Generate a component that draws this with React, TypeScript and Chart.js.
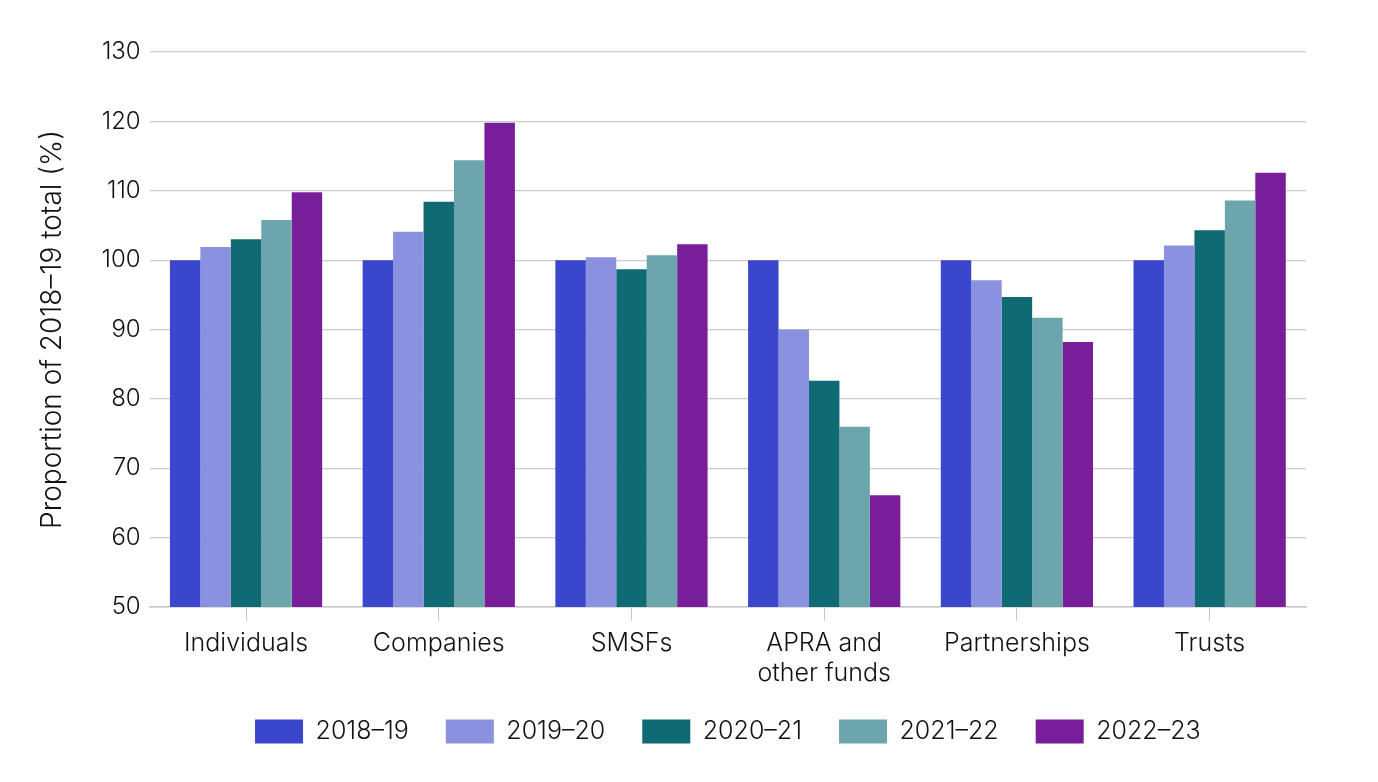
import React, { useEffect, useRef } from "react";
import { Chart, registerables } from "chart.js";

Chart.register(...registerables);

const categories: (string | string[])[] = [
  "Individuals",
  "Companies",
  "SMSFs",
  ["APRA and", "other funds"],
  "Partnerships",
  "Trusts",
];
const seriesLabels = ["2018–19", "2019–20", "2020–21", "2021–22", "2022–23"];
const v2018 = [100, 100, 100, 100, 100, 100];
const v2019 = [101.9, 104.1, 100.4, 90.0, 97.1, 102.1];
const v2020 = [103.0, 108.4, 98.7, 82.6, 94.7, 104.3];
const v2021 = [105.8, 114.4, 100.7, 76.0, 91.7, 108.6];
const v2022 = [109.8, 119.8, 102.3, 66.1, 88.2, 112.6];
const colors = ["#3A46CB", "#8A91DE", "#0F6A73", "#6DA5AD", "#781E9A"];
const yTitle = "Proportion of 2018–19 total (%)";

export default function App() {
  const ref = useRef<HTMLCanvasElement>(null);
  useEffect(() => {
    if (!ref.current) return;
    const all = [v2018, v2019, v2020, v2021, v2022];
    const chart = new Chart(ref.current, {
      type: "bar",
      data: {
        labels: categories,
        datasets: all.map((d, i) => ({
          label: seriesLabels[i],
          data: d,
          backgroundColor: colors[i],
          borderWidth: 0,
          categoryPercentage: 0.79,
          barPercentage: 1,
        })),
      },
      options: {
        animation: false,
        responsive: false,
        maintainAspectRatio: false,
        layout: { padding: { top: 52, right: 72, bottom: 28, left: 36 } },
        plugins: {
          tooltip: { enabled: false },
          legend: {
            position: "bottom",
            fullSize: false,
            labels: {
              boxWidth: 48,
              boxHeight: 24,
              padding: 37,
              color: "#111",
              font: { family: "Inter", size: 25, weight: 300 },
            },
          },
        },
        scales: {
          x: {
            afterFit: (scale: any) => {
              scale.height -= 13;
            },
            grid: {
              offset: false,
              drawOnChartArea: false,
              drawTicks: true,
              tickLength: 14,
              color: "#c8c8c8",
            },
            border: { color: "#c8c8c8", width: 1.5 },
            ticks: {
              color: "#111",
              font: { family: "Inter", size: 25, weight: 300, lineHeight: 1.2 },
              padding: 7,
              maxRotation: 0,
            },
          },
          y: {
            min: 50,
            max: 130,
            ticks: {
              stepSize: 10,
              color: "#111",
              font: { family: "Inter", size: 24, weight: 300 },
              padding: 9,
            },
            grid: { color: "#cccccc", drawTicks: false, lineWidth: 1.2 },
            border: { display: false },
            title: {
              display: true,
              text: yTitle,
              color: "#111",
              font: { family: "Inter", size: 28, weight: 300 },
              padding: { top: 0, bottom: 23 },
            },
          },
        },
      },
    });
    return () => chart.destroy();
  }, []);
  return (
    <div style={{ position: "absolute", left: 0, top: 0, width: 1378, height: 782, background: "#fff" }}>
      <canvas ref={ref} width={1378} height={782} style={{ width: 1378, height: 782 }} />
    </div>
  );
}
